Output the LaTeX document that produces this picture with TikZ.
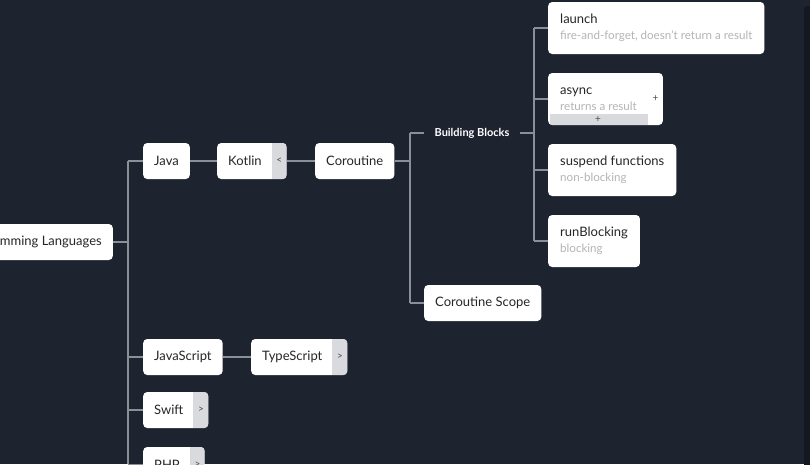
\documentclass[tikz,border=0pt]{standalone}
\usepackage{fontspec}
\setmainfont{Lato}
\usetikzlibrary{positioning}

\definecolor{bgnavy}{HTML}{1E2330}
\definecolor{linegray}{HTML}{8A8F98}
\definecolor{foldgray}{HTML}{D9DADD}
\definecolor{subgray}{HTML}{B4B4B4}
\definecolor{scrolldark}{HTML}{141820}

\newcommand{\subline}[1]{{\fontsize{11.6}{13}\selectfont\color{subgray}#1}}

\tikzset{
  topic/.style={fill=white, rounded corners=4pt, minimum height=36pt,
    inner xsep=11pt, text=black!85, font=\fontsize{13}{16}\selectfont},
  detail/.style={topic, minimum height=52pt, inner xsep=12pt, align=left},
  fold/.style={execute at end node={\hspace{14pt}},
    path picture={\fill[foldgray, sharp corners]
      ([xshift=-15pt]path picture bounding box.north east)
      rectangle (path picture bounding box.south east);},
    label={[anchor=center, xshift=-7.5pt, text=black!70,
      font=\fontsize{10}{10}\selectfont]east:#1}},
  foldbar/.style={path picture={\fill[foldgray, sharp corners]
      ([xshift=2pt]path picture bounding box.south west)
      rectangle ([xshift=-15pt, yshift=11pt]path picture bounding box.south east);},
    label={[anchor=center, xshift=-7.5pt, yshift=5.5pt, text=black!70,
      font=\fontsize{10}{10}\selectfont]south:#1}},
  link/.style={draw=linegray, line width=1.5pt},
}

\begin{document}
\begin{tikzpicture}[x=1pt, y=-1pt]
        \fill[bgnavy] (0,0) rectangle (810,464);
        \useasboundingbox (0,0) rectangle (810,464);
        \clip (0,0) rectangle (810,464);
        \fill[scrolldark, rounded corners=3pt] (804,6) rectangle (812,470);

        \coordinate (trunk) at (128,0);
        \coordinate (cspine) at (410,0);
        \coordinate (bspine) at (534,0);

        % main branch
        \node[topic, anchor=east] (plang) at (113,242) {Programming Languages};
        \node[topic, anchor=west] (java) at (143,161) {Java};
        \node[topic, fold={<}, anchor=west] (kotlin) at (217,161) {Kotlin};
        \node[topic, anchor=west] (coroutine) at (315,161) {Coroutine};
        \node[topic, anchor=west] (javascript) at (143,357) {JavaScript};
        \node[topic, fold={>}, anchor=west] (typescript) at (251,357) {TypeScript};
        \node[topic, fold={>}, anchor=west] (swift) at (143,410) {Swift};
        \node[topic, fold={>}, anchor=west] (php) at (143,465) {PHP};

        % coroutine branch
        \node[text=white, inner xsep=10pt, font=\bfseries\fontsize{11}{13}\selectfont]
            (bb) at (472,133) {Building Blocks};
        \node[topic, anchor=west] (scope) at (424,303) {Coroutine Scope};
        \node[detail, anchor=west] (launch) at (548,28)
            {launch\\\subline{fire-and-forget, doesn't return a result}};
        \node[detail, fold={+}, foldbar={+}, anchor=west] (async) at (548,99)
            {async\\\subline{returns a result}};
        \node[detail, anchor=west] (suspend) at (548,170)
            {suspend functions\\\subline{non-blocking}};
        \node[detail, anchor=west] (runblocking) at (548,241)
            {runBlocking\\\subline{blocking}};

        % connectors
        \draw[link] (plang.east) -- (plang.east -| trunk);
        \draw[link] (java.west -| trunk) -- (0,464 -| trunk);
        \foreach \n in {java, javascript, swift, php}
            \draw[link] (\n.west -| trunk) -- (\n.west);
        \draw[link] (java) -- (kotlin);
        \draw[link] (kotlin) -- (coroutine);
        \draw[link] (javascript) -- (typescript);

        \draw[link] (coroutine.east) -- (coroutine.east -| cspine);
        \draw[link] (bb.west -| cspine) -- (scope.west -| cspine);
        \draw[link] (bb.west -| cspine) -- (bb.west);
        \draw[link] (scope.west -| cspine) -- (scope.west);

        \draw[link] (bb.east) -- (bb.east -| bspine);
        \draw[link] (launch.west -| bspine) -- (runblocking.west -| bspine);
        \foreach \n in {launch, async, suspend, runblocking}
            \draw[link] (\n.west -| bspine) -- (\n.west);
\end{tikzpicture}
\end{document}
